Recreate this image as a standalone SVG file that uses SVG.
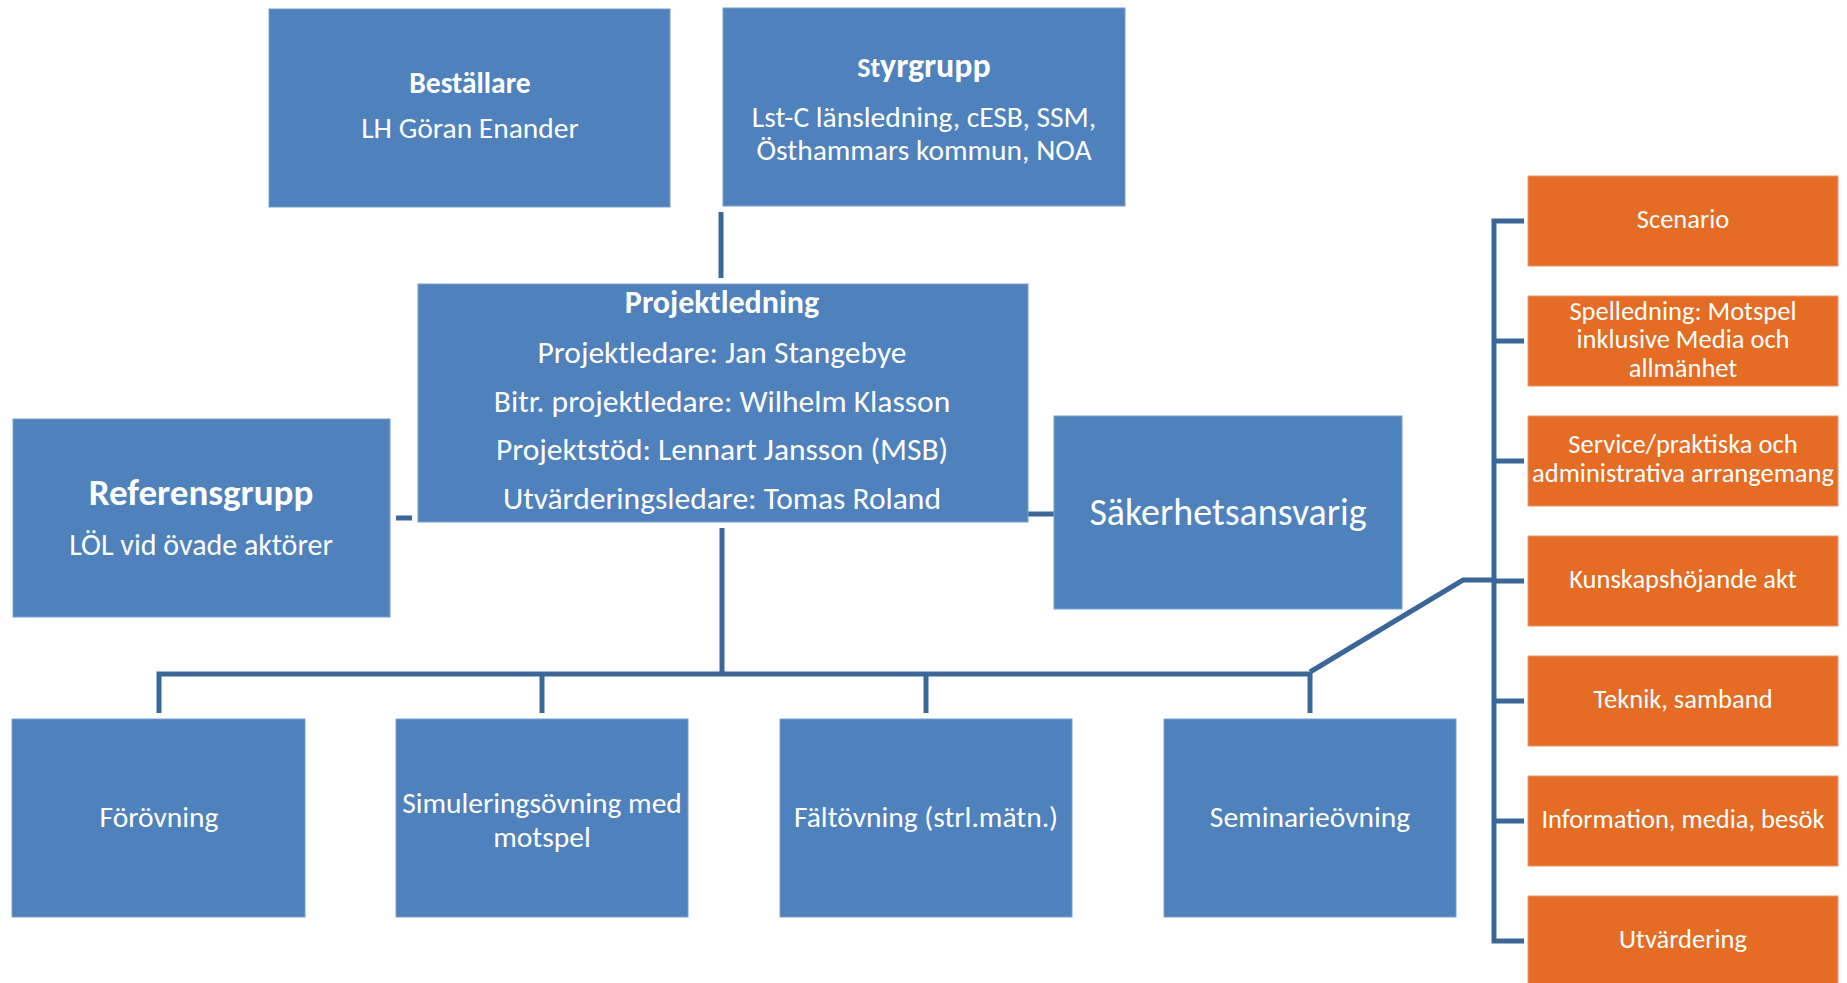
<svg xmlns="http://www.w3.org/2000/svg" width="1847" height="983" viewBox="0 0 1847 983">
<style>
.b{fill:#4F81BD;stroke:#7A9FCD;stroke-width:1}
.o{fill:#E46C24;stroke:#EE9A6A;stroke-width:1}
text{font-family:Carlito,Lato,"Open Sans",sans-serif;fill:#FFFFFF;text-anchor:middle}
.t26{font-size:26.5px}
.t29{font-size:29.5px}
.t31{font-size:31.5px}
.bd{font-weight:bold}
.c{fill:none;stroke:#3B6698;stroke-width:5;stroke-linejoin:miter}
</style>
<rect width="1847" height="983" fill="#FFFFFF"/>
<g id="connectors">
<path class="c" d="M721,212 V278"/>
<path class="c" d="M396,518 H412"/>
<path class="c" d="M1028,514 H1054"/>
<path class="c" d="M722,528 V674"/>
<path class="c" d="M159,713 V674 H1310 V713"/>
<path class="c" d="M542,674 V713"/>
<path class="c" d="M926,674 V713"/>
<path class="c" d="M1310,672 L1463,580 H1494"/>
<path class="c" d="M1524,221 H1494 V941 H1524"/>
<path class="c" d="M1494,341 H1524 M1494,461 H1524 M1494,581 H1524 M1494,701 H1524 M1494,821 H1524"/>
</g>
<g id="bestallare">
<rect class="b" x="269" y="9" width="401" height="198"/>
<text class="bd" x="470" y="93" style="font-size:29.5px">Beställare</text>
<text class="t29" x="470" y="138">LH Göran Enander</text>
</g>
<g id="styrgrupp">
<rect class="b" x="723" y="8" width="402" height="198"/>
<text class="bd" x="924" y="77" style="font-size:34px"><tspan style="font-size:28px">St</tspan>yrgrupp</text>
<text class="t29" x="924" y="127">Lst-C länsledning, cESB, SSM,</text>
<text class="t29" x="924" y="160">Östhammars kommun, NOA</text>
</g>
<g id="projektledning">
<rect class="b" x="418" y="284" width="610" height="238"/>
<text class="bd" x="722" y="313" style="font-size:32px">Projektledning</text>
<text class="t31" x="722" y="363">Projektledare: Jan Stangebye</text>
<text class="t31" x="722" y="412">Bitr. projektledare: Wilhelm Klasson</text>
<text class="t31" x="722" y="460">Projektstöd: Lennart Jansson (MSB)</text>
<text class="t31" x="722" y="509">Utvärderingsledare: Tomas Roland</text>
</g>
<g id="referensgrupp">
<rect class="b" x="13" y="419" width="377" height="198"/>
<text class="bd" x="201" y="505" style="font-size:37px">Referensgrupp</text>
<text x="201" y="555" style="font-size:30px">LÖL vid övade aktörer</text>
</g>
<g id="sakerhetsansvarig">
<rect class="b" x="1054" y="416" width="348" height="193"/>
<text x="1228" y="525" style="font-size:38px">Säkerhetsansvarig</text>
</g>
<g id="forovning">
<rect class="b" x="12" y="719" width="293" height="198"/>
<text x="159" y="827" style="font-size:29.5px">Förövning</text>
</g>
<g id="simulering">
<rect class="b" x="396" y="719" width="292" height="198"/>
<text x="542" y="813" style="font-size:29.5px">Simuleringsövning med</text>
<text x="542" y="847" style="font-size:29.5px">motspel</text>
</g>
<g id="faltovning">
<rect class="b" x="780" y="719" width="292" height="198"/>
<text x="926" y="827" style="font-size:29.5px">Fältövning (strl.mätn.)</text>
</g>
<g id="seminarieovning">
<rect class="b" x="1164" y="719" width="292" height="198"/>
<text x="1310" y="827" style="font-size:29.5px">Seminarieövning</text>
</g>
<g id="scenario">
<rect class="o" x="1528" y="176" width="310" height="90"/>
<text class="t26" x="1683" y="228">Scenario</text>
</g>
<g id="spelledning">
<rect class="o" x="1528" y="296" width="310" height="90"/>
<text class="t26" x="1683" y="320">Spelledning: Motspel</text>
<text class="t26" x="1683" y="348">inklusive Media och</text>
<text class="t26" x="1683" y="377">allmänhet</text>
</g>
<g id="service">
<rect class="o" x="1528" y="416" width="310" height="90"/>
<text class="t26" x="1683" y="453">Service/praktiska och</text>
<text class="t26" x="1683" y="482">administrativa arrangemang</text>
</g>
<g id="kunskap">
<rect class="o" x="1528" y="536" width="310" height="90"/>
<text class="t26" x="1683" y="588">Kunskapshöjande akt</text>
</g>
<g id="teknik">
<rect class="o" x="1528" y="656" width="310" height="90"/>
<text class="t26" x="1683" y="708">Teknik, samband</text>
</g>
<g id="information">
<rect class="o" x="1528" y="776" width="310" height="90"/>
<text class="t26" x="1683" y="828">Information, media, besök</text>
</g>
<g id="utvardering">
<rect class="o" x="1528" y="896" width="310" height="90"/>
<text class="t26" x="1683" y="948">Utvärdering</text>
</g>
</svg>
